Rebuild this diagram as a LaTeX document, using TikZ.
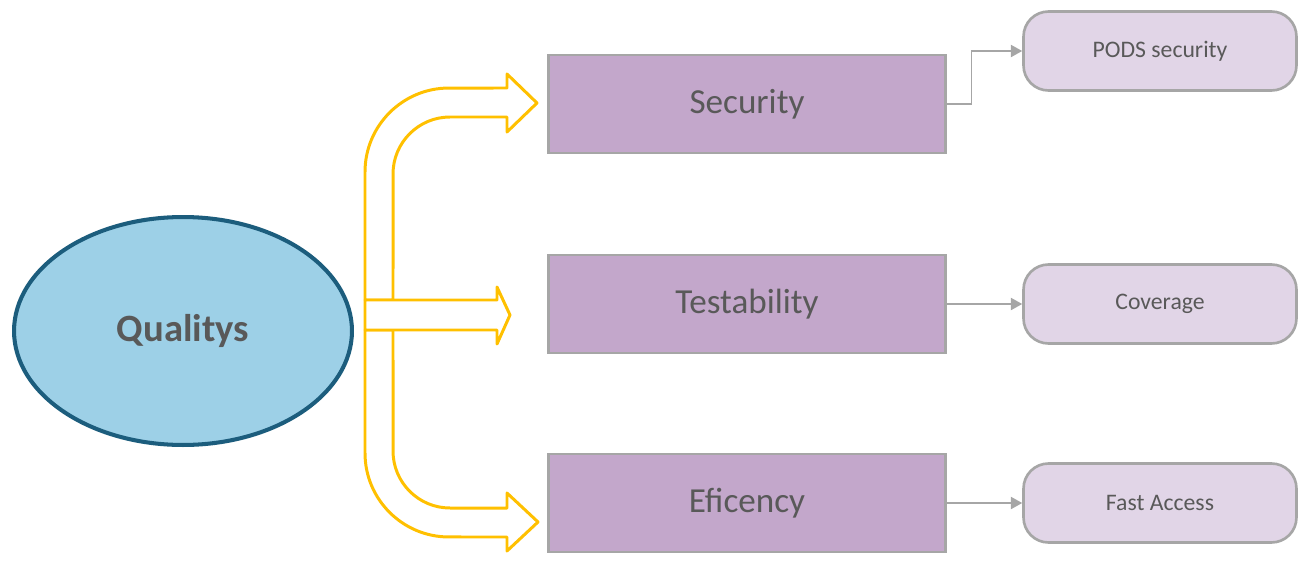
\documentclass[tikz,border=0pt]{standalone}
\usepackage{fontspec}
\setmainfont{Carlito}
\usetikzlibrary{arrows.meta,positioning,shapes.geometric}
\definecolor{skyfill}{RGB}{157,208,231}
\definecolor{deepsea}{RGB}{28,93,125}
\definecolor{lilac}{RGB}{195,167,203}
\definecolor{mist}{RGB}{225,213,231}
\definecolor{ash}{RGB}{166,166,166}
\definecolor{slate}{RGB}{89,89,89}
\definecolor{gold}{RGB}{255,192,0}

\begin{document}
\begin{tikzpicture}[x=0.02cm,y=-0.02cm,
    qualbox/.style={draw=ash,fill=lilac,line width=1.5pt,minimum width=79.4mm,minimum height=19.6mm,text=slate,font=\fontsize{20}{24}\selectfont},
    leafbox/.style={draw=ash,fill=mist,line width=1.5pt,rounded corners=5mm,minimum width=54.6mm,minimum height=15.8mm,text=slate,font=\fontsize{13.5}{16}\selectfont},
    hollow/.style={draw=gold,fill=white,line width=1.7pt,line join=round}]
  \useasboundingbox (0,0) rectangle (1309,565);
  \node[ellipse,draw=deepsea,fill=skyfill,line width=2.3pt,minimum width=67.6mm,minimum height=45.6mm,text=slate,font=\fontsize{22}{26}\selectfont\bfseries] (root) at (183,331) {Qualitys};
  % block arrows out of the root
  \draw[hollow] (365,300) -- (365,172) arc[start angle=180,end angle=90,radius=1.68cm] -- (507,88) -- (507,74) -- (537,103) -- (507,132) -- (507,117) -- (450,117) arc[start angle=90,end angle=180,radius=1.14cm] -- (393,300) -- cycle;
  \draw[hollow] (365,330) -- (365,453) arc[start angle=180,end angle=270,radius=1.68cm] -- (507,537) -- (507,551) -- (538,522) -- (507,493) -- (507,508) -- (450,508) arc[start angle=270,end angle=180,radius=1.14cm] -- (393,330) -- cycle;
  \draw[hollow] (365,300) -- (497,300) -- (497,287) -- (510,315) -- (497,344) -- (497,330) -- (365,330) -- cycle;
  \foreach \t/\d/\y/\yy [count=\i from 0] in {
    Security/PODS security/104/51,
    Testability/Coverage/304/304,
    Eficency/Fast Access/503/503}
  {
    \node[qualbox] (q\i) at (747,\y) {\t};
    \node[leafbox] (d\i) at (1160,\yy) {\d};
    \draw[ash,line width=0.8pt,-{Triangle[length=6.5pt,width=7pt]}] (q\i.east) -- ++(25,0) |- (d\i.west);
  }
\end{tikzpicture}
\end{document}
